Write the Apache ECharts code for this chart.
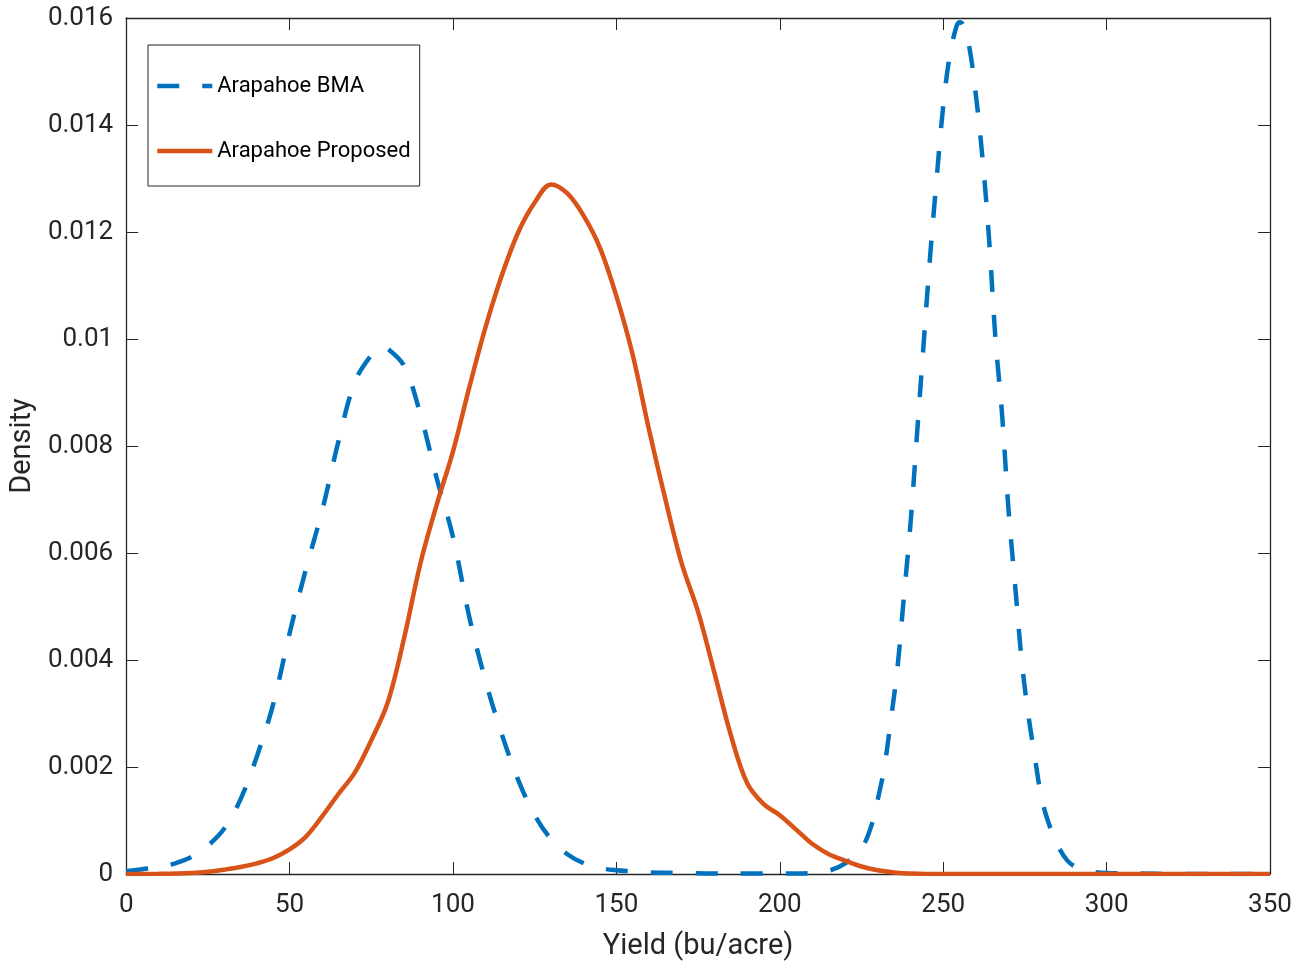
<!DOCTYPE html>
<html>
<head>
<meta charset="utf-8">
<script src="https://cdn.jsdelivr.net/npm/echarts@6/dist/echarts.min.js"></script>
<style>
html,body{margin:0;padding:0;background:#fff;}
#chart{width:1297px;height:966px;}
</style>
</head>
<body>
<div id="chart"></div>
<script>
// ---- data ----
var xTicks = [0, 50, 100, 150, 200, 250, 300, 350];
var yTicks = [0, 0.002, 0.004, 0.006, 0.008, 0.01, 0.012, 0.014, 0.016];
var seriesNames = ['Arapahoe BMA', 'Arapahoe Proposed'];

var bmaX = [0,5,10,15,20,25,30,35,40,45,50,55,60,65,70,75,78,80,85,90,95,100,105,110,115,120,125,130,135,140,145,150,155,160,170,180,190,200,210,215,220,225,228,230,232,234,236,238,240,242,244,246,248,250,252,254,255,256,258,260,262,264,266,268,270,272,274,276,278,280,282,285,288,291,295,300,310,320,350];
var bmaY = [0.00005,0.00009,0.00013,0.0002,0.00032,0.00053,0.00085,0.0014,0.0022,0.00318,0.0045,0.0057,0.0068,0.0081,0.0092,0.0097,0.00985,0.00982,0.0095,0.0086,0.0074,0.0063,0.0048,0.0036,0.0026,0.00175,0.0011,0.00065,0.00037,0.0002,0.00011,0.00007,0.00005,0.00003,0.00002,0.00001,0.00001,0.00001,0.00002,0.00006,0.0002,0.00048,0.0009,0.0014,0.002,0.00289,0.00385,0.0052,0.00655,0.00823,0.0099,0.01155,0.013,0.01435,0.0153,0.01583,0.01592,0.01588,0.01545,0.01456,0.0134,0.0119,0.0100,0.0086,0.0068,0.0054,0.0040,0.0030,0.0022,0.00145,0.0010,0.00054,0.00025,0.00012,0.00005,0.00002,0.00001,0,0];

var propX = [0,10,20,25,30,35,40,45,50,55,60,65,70,75,80,85,90,95,100,105,110,115,120,125,130,135,140,145,150,155,160,165,170,175,180,185,190,195,200,205,210,215,220,225,230,235,240,250,300,350];
var propY = [0,0.000005,0.00002,0.00004,0.00008,0.00013,0.0002,0.0003,0.00046,0.0007,0.00108,0.0015,0.0019,0.0025,0.0032,0.0044,0.0058,0.0069,0.0079,0.0091,0.01023,0.0112,0.0120,0.01255,0.01289,0.01272,0.0123,0.0117,0.0108,0.0097,0.0083,0.0070,0.0058,0.0049,0.00376,0.0026,0.0017,0.00131,0.0011,0.00083,0.00056,0.00037,0.00025,0.00014,0.00007,0.00003,0.00001,0,0,0];

function pairs(xs, ys) { return xs.map(function (x, i) { return [x, ys[i]]; }); }

var AX = '#262626';
var FONT = 'Roboto';
var xMin = xTicks[0], xMax = xTicks[xTicks.length - 1], xInt = xTicks[1] - xTicks[0];
var yMin = yTicks[0], yMax = yTicks[yTicks.length - 1], yInt = yTicks[1] - yTicks[0];

function xAxisDef(pos, main) {
  return {
    type: 'value', position: pos, min: xMin, max: xMax, interval: xInt,
    name: main ? 'Yield (bu/acre)' : '', nameLocation: 'middle', nameGap: 58,
    nameTextStyle: { fontFamily: FONT, fontSize: 29, color: AX },
    axisLine: { show: true, onZero: false, lineStyle: { color: AX, width: 1.3 } },
    axisTick: { show: true, inside: true, length: 12, lineStyle: { color: AX, width: 1 } },
    axisLabel: { show: main, margin: 18, fontFamily: FONT, fontSize: 26, color: AX },
    splitLine: { show: false }
  };
}
function yAxisDef(pos, main) {
  return {
    type: 'value', position: pos, min: yMin, max: yMax, interval: yInt,
    name: main ? 'Density' : '', nameLocation: 'middle', nameGap: 76, nameRotate: 90,
    nameTextStyle: { fontFamily: FONT, fontSize: 29, color: AX },
    axisLine: { show: true, onZero: false, lineStyle: { color: AX, width: 1.3 } },
    axisTick: { show: true, inside: true, length: 12, lineStyle: { color: AX, width: 1 } },
    axisLabel: { show: main, margin: 13, fontFamily: FONT, fontSize: 26, color: AX },
    splitLine: { show: false }
  };
}

var chart = echarts.init(document.getElementById('chart'), null, { renderer: 'canvas' });
chart.setOption({
  backgroundColor: '#ffffff',
  animation: false,
  grid: { left: 123, right: 27, top: 18, bottom: 90, containLabel: false },
  legend: {
    orient: 'vertical', left: 148, top: 45,
    padding: [28, 9, 22, 7],
    itemWidth: 55, itemHeight: 26, itemGap: 39,
    borderColor: AX, borderWidth: 1, backgroundColor: '#fff',
    itemStyle: { color: 'transparent', borderWidth: 0, opacity: 0 },
    lineStyle: { width: 4.5 },
    textStyle: { fontFamily: FONT, fontSize: 22, color: '#000', lineHeight: 26 },
    data: seriesNames
  },
  xAxis: [xAxisDef('bottom', true), xAxisDef('top', false)],
  yAxis: [yAxisDef('left', true), yAxisDef('right', false)],
  series: [
    {
      name: seriesNames[0], type: 'line', data: pairs(bmaX, bmaY),
      symbol: 'none', smooth: 0.35,
      color: '#0072BD',
      lineStyle: { color: '#0072BD', width: 4.5, type: [22, 23], cap: 'butt' }
    },
    {
      name: seriesNames[1], type: 'line', data: pairs(propX, propY),
      symbol: 'none', smooth: 0.35,
      color: '#D95319',
      lineStyle: { color: '#D95319', width: 4.5, type: 'solid', cap: 'butt' }
    }
  ]
});
</script>
</body>
</html>
